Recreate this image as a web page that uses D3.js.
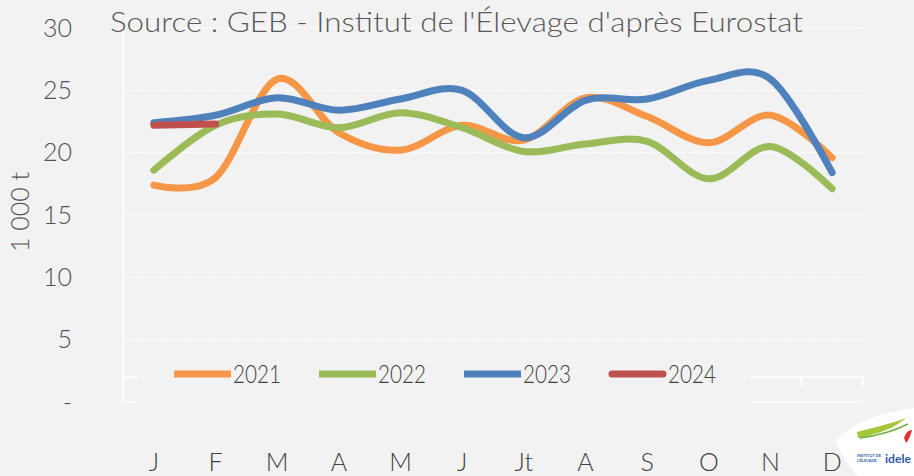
<!DOCTYPE html>
<html>
<head>
<meta charset="utf-8">
<script src="https://cdn.jsdelivr.net/npm/d3@7"></script>
<style>
  body { margin: 0; background: #f2f2f2; }
  svg { display: block; font-family: Lato, "Open Sans", sans-serif; }
</style>
</head>
<body>
<svg id="chart"></svg>
<script>
// Months and tonnages (1 000 t)
const months = ['J', 'F', 'M', 'A', 'M', 'J', 'Jt', 'A', 'S', 'O', 'N', 'D'];
const yTicks = [0, 5, 10, 15, 20, 25, 30];
const years = ['2021', '2022', '2023', '2024'];
const v2021 = [17.4, 18.0, 25.9, 21.6, 20.2, 22.2, 21.0, 24.4, 22.9, 20.8, 23.0, 19.6];
const v2022 = [18.6, 22.2, 23.1, 22.0, 23.2, 22.0, 20.1, 20.7, 20.9, 17.9, 20.5, 17.1];
const v2023 = [22.4, 23.0, 24.4, 23.4, 24.3, 25.0, 21.2, 24.2, 24.3, 25.8, 25.9, 18.4];
const v2024 = [22.2, 22.3];

const colors = { '2021': '#f79646', '2022': '#9bbb59', '2023': '#4f81bd', '2024': '#c0504d' };
const series = [
    { year: '2021', values: v2021 },
    { year: '2022', values: v2022 },
    { year: '2023', values: v2023 },
    { year: '2024', values: v2024 }
];

const W = 914, H = 476;
const svg = d3.select('#chart').attr('width', W).attr('height', H);
svg.append('rect').attr('width', W).attr('height', H).attr('fill', '#f2f2f2');

const plotLeft = 123, plotRight = 863, plotTop = 28, plotBottom = 402;

// category scale: band for ticks between categories, point centres
const xBand = d3.scaleBand().domain(d3.range(12)).range([plotLeft, plotRight]);
const x = i => xBand(i) + xBand.bandwidth() / 2;
const y = d3.scaleLinear().domain([0, 30]).range([plotBottom, plotTop]);

// dashed horizontal gridlines
svg.append('g')
    .selectAll('line')
    .data(yTicks)
    .join('line')
    .attr('x1', plotLeft).attr('x2', plotRight)
    .attr('y1', d => y(d)).attr('y2', d => y(d))
    .attr('stroke', '#ffffff')
    .attr('stroke-width', 1.2)
    .attr('stroke-dasharray', d => d === 0 ? null : '4,2');

// vertical axis line
svg.append('line')
    .attr('x1', plotLeft).attr('x2', plotLeft)
    .attr('y1', plotTop).attr('y2', plotBottom)
    .attr('stroke', '#ffffff').attr('stroke-width', 1.5);

// horizontal axis crosses at 2
const axisY = y(2);
svg.append('line')
    .attr('x1', plotLeft).attr('x2', plotRight)
    .attr('y1', axisY).attr('y2', axisY)
    .attr('stroke', '#ffffff').attr('stroke-width', 1.5);
svg.append('g')
    .selectAll('line')
    .data(d3.range(13))
    .join('line')
    .attr('x1', d => plotLeft + d * xBand.step()).attr('x2', d => plotLeft + d * xBand.step())
    .attr('y1', axisY).attr('y2', axisY + 10)
    .attr('stroke', '#ffffff').attr('stroke-width', 1.5);

// y tick labels
svg.append('g')
    .selectAll('text')
    .data(yTicks)
    .join('text')
    .attr('x', 72)
    .attr('y', d => y(d))
    .attr('dy', '0.35em')
    .attr('text-anchor', 'end')
    .style('font-size', '25px')
    .style('font-weight', 300)
    .style('fill', '#505050')
    .text(d => d === 0 ? '-' : d);

// y axis title
svg.append('text')
    .attr('transform', 'translate(20,212) rotate(-90)')
    .attr('dy', '0.35em')
    .attr('text-anchor', 'middle')
    .style('font-size', '25px')
    .style('font-weight', 300)
    .style('fill', '#505050')
    .text('1 000 t');

// x labels
svg.append('g')
    .selectAll('text')
    .data(months)
    .join('text')
    .attr('x', (d, i) => x(i))
    .attr('y', 471)
    .attr('text-anchor', 'middle')
    .style('font-size', '25px')
    .style('font-weight', 300)
    .style('fill', '#404040')
    .text(d => d);

// legend box (covers part of the axis)
svg.append('rect')
    .attr('x', 137).attr('y', 352)
    .attr('width', 614).attr('height', 52)
    .attr('fill', '#f2f2f2');

// lines
const line = d3.line()
    .x((d, i) => x(i))
    .y(d => y(d))
    .curve(d3.curveCardinal.tension(0));

svg.append('g')
    .selectAll('path')
    .data(series)
    .join('path')
    .attr('d', d => line(d.values))
    .attr('fill', 'none')
    .attr('stroke', d => colors[d.year])
    .attr('stroke-width', 7)
    .attr('stroke-linecap', 'round')
    .attr('stroke-linejoin', 'round');

// legend entries
const legend = svg.append('g')
    .selectAll('g')
    .data(years)
    .join('g')
    .attr('transform', (d, i) => `translate(${174 + i * 145},374)`);
legend.append('line')
    .attr('x1', d => d === '2024' ? 3 : 0).attr('x2', d => d === '2024' ? 54 : 57)
    .attr('stroke', d => colors[d])
    .attr('stroke-width', 7)
    .attr('stroke-linecap', d => d === '2024' ? 'round' : 'butt');
legend.append('text')
    .attr('x', 59)
    .attr('dy', '0.35em')
    .attr('textLength', 48)
    .attr('lengthAdjust', 'spacingAndGlyphs')
    .style('font-size', '25px')
    .style('font-weight', 300)
    .style('fill', '#404040')
    .text(d => d);

// title
svg.append('text')
    .attr('x', 110).attr('y', 32)
    .attr('textLength', 693)
    .attr('lengthAdjust', 'spacingAndGlyphs')
    .style('font-size', '28px')
    .style('font-weight', 300)
    .style('fill', '#595959')
    .text("Source : GEB - Institut de l'Élevage d'après Eurostat");

// idele logo corner
const logo = svg.append('g');
logo.append('path')
    .attr('d', 'M836,440 C856,420 885,412 914,408 L914,476 L858,476 C848,466 840,454 836,440 Z')
    .attr('fill', '#ffffff');
logo.append('path')
    .attr('d', 'M857,432 C872,428 890,424 906,418 C895,428 878,434 858,438 Z')
    .attr('fill', '#a4c639');
logo.append('path')
    .attr('d', 'M860,438 C875,436 892,432 908,424')
    .attr('fill', 'none').attr('stroke', '#6db33f').attr('stroke-width', 1.5);
logo.append('path')
    .attr('d', 'M904,438 C906,432 909,430 912,430 C911,434 909,440 906,443 Z')
    .attr('fill', '#e53030');
logo.append('text')
    .attr('x', 857).attr('y', 457)
    .style('font-size', '4px').style('fill', '#2a5caa').style('font-weight', 'bold')
    .text('INSTITUT DE');
logo.append('text')
    .attr('x', 857).attr('y', 462)
    .style('font-size', '4px').style('fill', '#2a5caa').style('font-weight', 'bold')
    .text("L'ÉLEVAGE");
logo.append('text')
    .attr('x', 885).attr('y', 463)
    .attr('textLength', 26)
    .attr('lengthAdjust', 'spacingAndGlyphs')
    .style('font-size', '12px').style('fill', '#2a5caa').style('font-weight', 'bold')
    .text('idele');
</script>
</body>
</html>
